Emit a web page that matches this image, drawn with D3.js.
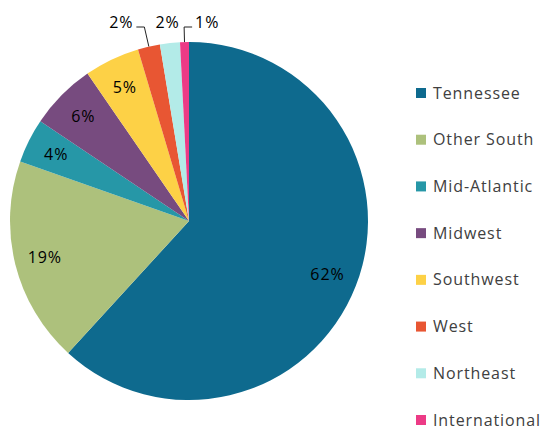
<!DOCTYPE html>
<html>
<head>
<meta charset="utf-8">
<script src="https://cdn.jsdelivr.net/npm/d3@7"></script>
<style>
  body { margin: 0; background: white; }
  text { font-family: 'Open Sans', sans-serif; letter-spacing: 0.9px; }
</style>
</head>
<body>
<div id="chart"></div>
<script>
var w = 556;
var h = 431;

// data (percent shares)
var categories = ['Tennessee', 'Other South', 'Mid-Atlantic', 'Midwest', 'Southwest', 'West', 'Northeast', 'International'];
var values = [61.8, 18.6, 4.0, 6.0, 5.0, 2.0, 1.8, 0.8];
var colors = ['#0e6a8e', '#adc17c', '#2697a7', '#774b7f', '#fdd146', '#e85633', '#b3ebe8', '#ec3b86'];
// small slices get their label outside, shifted sideways along a leader line
var outsideShift = [0, 0, 0, 0, 0, -20, 0, 22];

var cx = 189, cy = 221, r = 179;
var fontSize = 16;

var svg = d3.select('#chart').append('svg')
  .attr('width', w)
  .attr('height', h);

var total = d3.sum(values);
var pie = d3.pie().sort(null).value(function(d) { return d; });
var arcs = pie(values);

var arc = d3.arc().innerRadius(0).outerRadius(r);
var labelArc = d3.arc().innerRadius(r * 0.83).outerRadius(r * 0.83);

var g = svg.append('g').attr('transform', 'translate(' + cx + ',' + cy + ')');

g.selectAll('path.slice')
  .data(arcs)
  .enter().append('path')
  .attr('class', 'slice')
  .attr('d', arc)
  .attr('fill', function(d, i) { return colors[i]; });

function pct(d) {
  return Math.round(d.value / total * 100) + '%';
}
function isOutside(d) {
  return d.value / total < 0.03;
}
function midAngle(d) {
  return (d.startAngle + d.endAngle) / 2;
}

// inside labels
g.selectAll('text.in')
  .data(arcs.filter(function(d) { return !isOutside(d); }))
  .enter().append('text')
  .attr('class', 'in')
  .attr('transform', function(d) { return 'translate(' + labelArc.centroid(d) + ')'; })
  .attr('text-anchor', 'middle')
  .attr('dy', '0.35em')
  .attr('font-size', fontSize)
  .attr('fill', '#000')
  .text(pct);

// outside labels with leader lines
arcs.forEach(function(d, i) {
  if (!isOutside(d)) return;
  var a = midAngle(d);
  var shift = outsideShift[i];
  var edge = [r * Math.sin(a), -r * Math.cos(a)];
  var textY = -r - 20;
  var elbowY = textY + 5;
  var elbowR = -elbowY / Math.cos(a);
  var elbow = [elbowR * Math.sin(a), elbowY];
  var tx = 201 * Math.sin(a) + shift;
  if (shift !== 0) {
    var dir = shift < 0 ? -1 : 1;
    var end = [elbow[0] + dir * 8, elbowY];
    g.append('polyline')
      .attr('points', [edge, elbow, end].map(function(p) { return p.join(','); }).join(' '))
      .attr('fill', 'none')
      .attr('stroke', '#222')
      .attr('stroke-width', 1);
    tx = end[0] + dir * 3;
  }
  g.append('text')
    .attr('x', tx)
    .attr('y', textY)
    .attr('text-anchor', shift < 0 ? 'end' : (shift > 0 ? 'start' : 'middle'))
    .attr('dy', '0.35em')
    .attr('font-size', fontSize)
    .attr('fill', '#000')
    .text(pct(d));
});

// legend
var legendY = d3.scalePoint().domain(categories).range([93, 420]);
var legend = svg.append('g').attr('class', 'legend');
var item = legend.selectAll('g')
  .data(categories)
  .enter().append('g')
  .attr('transform', function(d) { return 'translate(416,' + legendY(d) + ')'; });

item.append('rect')
  .attr('x', 0).attr('y', -5)
  .attr('width', 10).attr('height', 10)
  .attr('fill', function(d, i) { return colors[i]; });

item.append('text')
  .attr('x', 17)
  .attr('dy', '0.35em')
  .attr('font-size', fontSize)
  .attr('fill', '#404040')
  .text(function(d) { return d; });
</script>
</body>
</html>
